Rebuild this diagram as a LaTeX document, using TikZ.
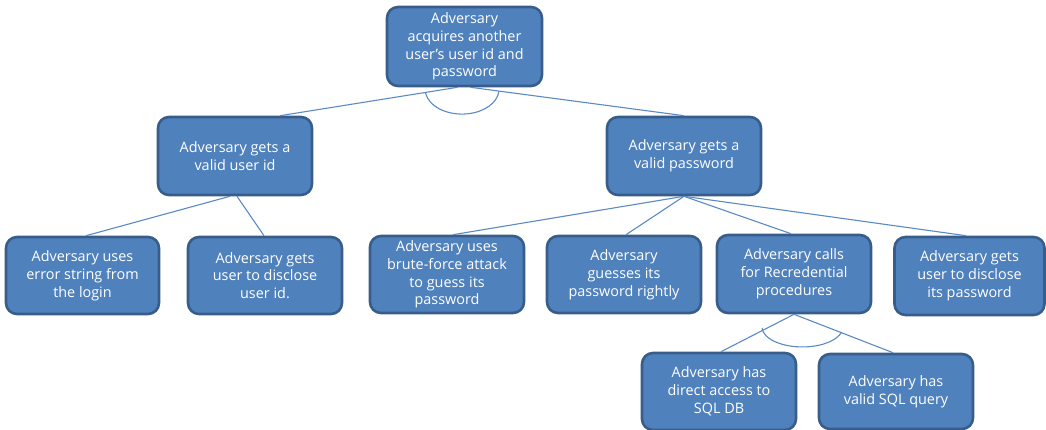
\documentclass[tikz,border=0pt]{standalone}
\usepackage{fontspec}
\setmainfont{Open Sans}
\definecolor{boxfill}{HTML}{4F81BD}
\definecolor{boxdraw}{HTML}{385D8A}
\definecolor{linkcol}{HTML}{5A8AC6}
\begin{document}
\begin{tikzpicture}[x=1pt,y=-1pt,
  goal/.style={rectangle, rounded corners=11pt, fill=boxfill, draw=boxdraw, line width=2.6pt,
    text=white, align=center, inner sep=1pt, font=\fontsize{14.4}{17.8}\selectfont},
  link/.style={draw=linkcol, line width=1.1pt},
  andarc/.style={draw=linkcol, line width=1.1pt}]
\useasboundingbox (0,0) rectangle (1046,430);
\node[goal, minimum width=155pt, minimum height=79pt] (root) at (464.5,46.5) {Adversary\\acquires another\\user's user id and\\password};
\node[goal, minimum width=154pt, minimum height=78pt] (uid) at (235,156) {Adversary gets a\\valid user id};
\node[goal, minimum width=154pt, minimum height=78pt] (pwd) at (684,156) {Adversary gets a\\valid password};
\node[goal, minimum width=153pt, minimum height=77pt] (err) at (82.5,275.5) {Adversary uses\\error string from\\the login};
\node[goal, minimum width=154pt, minimum height=77pt] (dis1) at (265,275.5) {Adversary gets\\user to disclose\\user id.};
\node[goal, minimum width=154pt, minimum height=77pt] (brute) at (447,274.5) {Adversary uses\\brute-force attack\\to guess its\\password};
\node[goal, minimum width=154pt, minimum height=77pt] (guess) at (624,274.5) {Adversary\\guesses its\\password rightly};
\node[goal, minimum width=154pt, minimum height=78pt] (calls) at (794,274) {Adversary calls\\for Recredential\\procedures};
\node[goal, minimum width=150pt, minimum height=78pt] (dis2) at (969.5,276) {Adversary gets\\user to disclose\\its password};
\node[goal, minimum width=154pt, minimum height=77pt] (direct) at (719,391.5) {Adversary has\\direct access to\\SQL DB};
\node[goal, minimum width=154pt, minimum height=75pt] (sql) at (896,391.5) {Adversary has\\valid SQL query};
% connectors
\coordinate (r1) at ([xshift=-7pt]root.south);
\coordinate (r2) at ([xshift=6pt]root.south);
\draw[link] (r1) -- ([xshift=45pt]uid.north);
\draw[link] (r2) -- (pwd.north);
\draw[andarc] (425.5,93) arc[start angle=189, end angle=355, x radius=37, y radius=-25];
\coordinate (u1) at ([xshift=-5pt]uid.south);
\coordinate (u2) at ([xshift=2pt]uid.south);
\draw[link] (u1) -- ([xshift=3.5pt]err.north);
\draw[link] (u2) -- ([xshift=-1pt]dis1.north);
\draw[link] (pwd.south) -- ([xshift=6pt]brute.north);
\draw[link] (pwd.south) -- ([xshift=2pt]guess.north);
\draw[link] (pwd.south) -- ([xshift=-3pt]calls.north);
\draw[link] (pwd.south) -- ([xshift=-3.5pt]dis2.north);
\draw[link] (calls.south) -- ([xshift=2pt]direct.north);
\draw[link] (calls.south) -- ([xshift=-3pt]sql.north);
\draw[andarc] (762,328) arc[start angle=183, end angle=345.5, x radius=40.5, y radius=-20];
\end{tikzpicture}
\end{document}
